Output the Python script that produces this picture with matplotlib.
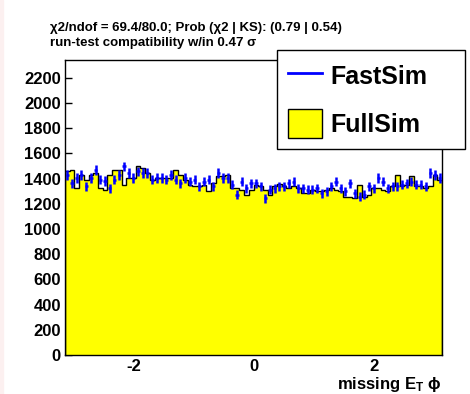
import numpy as np
import matplotlib
matplotlib.use('Agg')
import matplotlib.pyplot as plt
from matplotlib.lines import Line2D
from matplotlib.patches import Patch, Rectangle

plt.rcParams['font.family'] = ['Liberation Sans', 'DejaVu Sans']
plt.rcParams['font.weight'] = 'bold'
plt.rcParams['axes.unicode_minus'] = False
plt.rcParams['mathtext.fontset'] = 'custom'
plt.rcParams['mathtext.rm'] = 'Liberation Sans:bold'
plt.rcParams['mathtext.bf'] = 'Liberation Sans:bold'
plt.rcParams['mathtext.it'] = 'Liberation Sans:bold'

# 80 bins in missing ET phi, -pi .. pi
n_bins = 80
full_sim = [1456, 1469, 1323, 1429, 1390, 1429, 1443, 1323, 1310, 1429,
            1469, 1469, 1350, 1403, 1403, 1496, 1482, 1443, 1390, 1403,
            1403, 1403, 1403, 1469, 1429, 1390, 1350, 1337, 1337, 1350,
            1297, 1363, 1416, 1416, 1429, 1323, 1323, 1310, 1270, 1310,
            1350, 1337, 1310, 1270, 1337, 1355, 1337, 1323, 1337, 1323,
            1283, 1283, 1310, 1297, 1297, 1310, 1323, 1310, 1297, 1257,
            1257, 1244, 1350, 1257, 1270, 1323, 1323, 1310, 1297, 1337,
            1429, 1337, 1350, 1416, 1337, 1337, 1323, 1337, 1429, 1390]
fast_sim = [1429, 1363, 1403, 1429, 1337, 1403, 1469, 1390, 1380, 1323,
            1390, 1429, 1496, 1443, 1403, 1456, 1443, 1443, 1390, 1403,
            1403, 1390, 1429, 1390, 1363, 1403, 1376, 1390, 1337, 1376,
            1390, 1337, 1443, 1403, 1403, 1350, 1270, 1376, 1323, 1363,
            1363, 1337, 1244, 1310, 1323, 1337, 1337, 1363, 1376, 1323,
            1323, 1310, 1310, 1323, 1283, 1297, 1337, 1376, 1323, 1297,
            1363, 1283, 1257, 1270, 1337, 1323, 1403, 1376, 1323, 1337,
            1337, 1350, 1363, 1376, 1350, 1350, 1337, 1443, 1429, 1403]

line1 = u'\u03c72/ndof = 69.4/80.0; Prob (\u03c72 | KS): (0.79 | 0.54)'
line2 = u'run-test compatibility w/in 0.47 \u03c3'

edges = np.linspace(-np.pi, np.pi, n_bins + 1)
centers = 0.5 * (edges[:-1] + edges[1:])
width = edges[1] - edges[0]
full = np.array(full_sim)
fast = np.array(fast_sim)

fig = plt.figure(figsize=(4.7, 3.94), dpi=100)
fig.patches.append(Rectangle((0, 0), 3 / 470, 1, transform=fig.transFigure,
                             color='#fcf0f0', zorder=0))
ax = fig.add_axes([65 / 470, 1 - 355 / 394, 377 / 470, 295 / 394])

ax.stairs(full, edges, fill=True, color='#ffff00', zorder=2)
ax.stairs(full, edges, color='black', lw=1.0, zorder=2.1)
ax.errorbar(centers, fast, yerr=np.sqrt(fast), xerr=0.35 * width,
            fmt='none', ecolor='#0000ff', elinewidth=1.8, capsize=0, zorder=3)

ax.set_xlim(-np.pi, np.pi)
ax.set_ylim(0, 2340)
ax.set_yticks(np.arange(0, 2201, 200))
ax.set_xticks([-2, 0, 2])
ax.set_axisbelow(True)
ax.tick_params(direction='in', length=5, width=1, labelsize=12)
ax.tick_params(axis='y', pad=3)
ax.tick_params(axis='x', pad=3)
for s in ax.spines.values():
    s.set_linewidth(1.0)

ax.set_xlabel(r'missing E$_{\mathrm{T}}$ $\phi$', fontsize=12,
              fontweight='bold', ha='right', va='center')
ax.xaxis.set_label_coords(1.0, -30 / 295)

fig.text(50 / 470, 1 - 28 / 394, line1, fontsize=9.5, fontweight='bold',
         va='center', ha='left')
fig.text(50 / 470, 1 - 43 / 394, line2, fontsize=9.5, fontweight='bold',
         va='center', ha='left')

handles = [Line2D([0], [0], color='#0000ff', lw=2),
           Patch(facecolor='#ffff00', edgecolor='black', lw=1)]
leg = fig.legend(handles, ['FastSim', 'FullSim'], loc='upper left',
                 bbox_to_anchor=(277 / 470, 1 - 54 / 394, 188 / 470, 0.01),
                 mode='expand', prop={'weight': 'bold', 'size': 18},
                 frameon=True, fancybox=False, shadow=False, framealpha=1,
                 edgecolor='black', borderpad=0.45, labelspacing=0.75,
                 handlelength=1.35, handleheight=1.4, handletextpad=0.35,
                 borderaxespad=0)
leg.get_frame().set_linewidth(1.0)

fig.savefig('out.png', dpi=100)
